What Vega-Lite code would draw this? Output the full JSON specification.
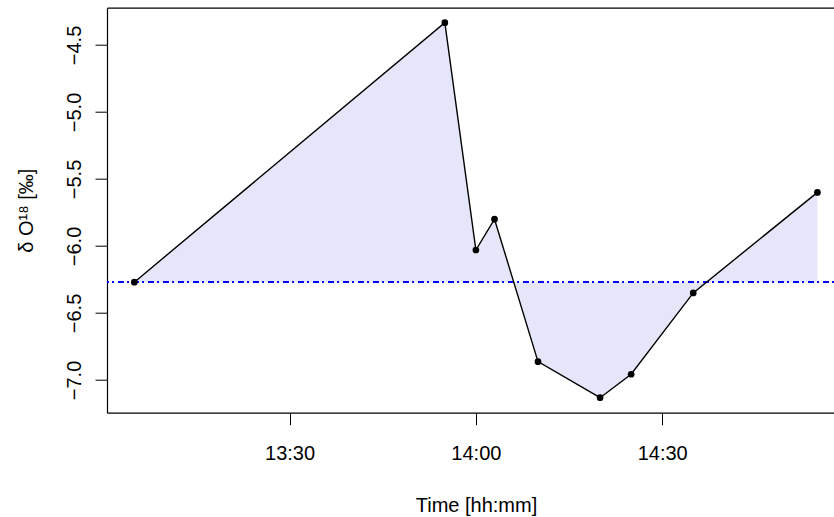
{
  "$schema": "https://vega.github.io/schema/vega-lite/v6.json",
  "autosize": {"type": "none"},
  "width": 727,
  "height": 405,
  "padding": {"left": 107, "top": 7.7, "right": 0, "bottom": 104.3},
  "background": "white",
  "config": {
    "view": {"stroke": null},
    "font": "Liberation Sans",
    "axis": {
      "domain": true,
      "domainColor": "black",
      "domainWidth": 1.2,
      "grid": false,
      "tickColor": "black",
      "tickSize": 12,
      "tickWidth": 1,
      "labelColor": "black",
      "labelFont": "Liberation Sans",
      "labelFontSize": 20,
      "titleColor": "black",
      "titleFont": "Liberation Sans",
      "titleFontSize": 20,
      "titleFontWeight": "normal"
    }
  },
  "data": {
    "values": [
      {"time": "2024-01-01T13:05:00", "d18O": -6.27},
      {"time": "2024-01-01T13:55:00", "d18O": -4.334},
      {"time": "2024-01-01T14:00:00", "d18O": -6.03},
      {"time": "2024-01-01T14:03:00", "d18O": -5.80},
      {"time": "2024-01-01T14:10:00", "d18O": -6.863},
      {"time": "2024-01-01T14:20:00", "d18O": -7.132},
      {"time": "2024-01-01T14:25:00", "d18O": -6.957},
      {"time": "2024-01-01T14:35:00", "d18O": -6.35},
      {"time": "2024-01-01T14:55:00", "d18O": -5.60}
    ]
  },
  "encoding": {
    "x": {
      "field": "time",
      "type": "temporal",
      "scale": {
        "domain": [
          {"year": 2024, "month": 1, "date": 1, "hours": 13, "minutes": 0, "seconds": 36},
          {"year": 2024, "month": 1, "date": 1, "hours": 14, "minutes": 57, "seconds": 40}
        ],
        "nice": false
      },
      "axis": null
    },
    "y": {
      "field": "d18O",
      "type": "quantitative",
      "scale": {"domain": [-7.244, -4.222], "nice": false, "zero": false},
      "axis": {
        "title": "δ O¹⁸ [‰]",
        "values": [-7, -6.5, -6, -5.5, -5, -4.5],
        "labelExpr": "replace(format(datum.value, '.1f'), '-', '−')",
        "labelAngle": -90,
        "labelAlign": "center",
        "labelBaseline": "alphabetic",
        "labelPadding": 15,
        "labelFlush": false,
        "titleAngle": -90,
        "titleX": -75,
        "titleY": 202.5,
        "titleAlign": "center",
        "titleBaseline": "alphabetic"
      }
    }
  },
  "layer": [
    {
      "mark": {"type": "area", "color": "#E6E6FA", "opacity": 1},
      "encoding": {
        "x": {
          "field": "time",
          "type": "temporal",
          "axis": {
            "title": "Time [hh:mm]",
            "format": "%H:%M",
            "values": [
              {"year": 2024, "month": 1, "date": 1, "hours": 13, "minutes": 30},
              {"year": 2024, "month": 1, "date": 1, "hours": 14, "minutes": 0},
              {"year": 2024, "month": 1, "date": 1, "hours": 14, "minutes": 30}
            ],
            "labelPadding": 35,
            "labelBaseline": "alphabetic",
            "labelFlush": false,
            "titleX": 369,
            "titleY": 99,
            "titleBaseline": "alphabetic",
            "titleAlign": "center"
          }
        },
        "y2": {"datum": -6.27}
      }
    },
    {
      "mark": {"type": "rule", "color": "#0000FF", "strokeWidth": 1.2, "strokeDash": [1.5, 4, 5.5, 4]},
      "encoding": {"y": {"datum": -6.27}, "x": null}
    },
    {
      "mark": {"type": "line", "color": "black", "strokeWidth": 1.4},
      "encoding": {
        "x": {
          "field": "time",
          "type": "temporal",
          "axis": {"orient": "top", "labels": false, "ticks": false, "title": null}
        }
      }
    },
    {
      "mark": {"type": "point", "filled": true, "color": "black", "opacity": 1, "size": 45}
    }
  ],
  "resolve": {"axis": {"x": "independent"}}
}
